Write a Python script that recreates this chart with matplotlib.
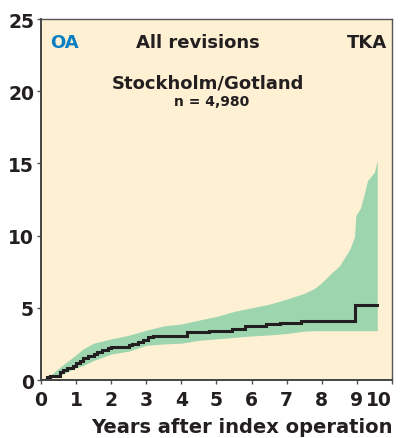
import matplotlib
matplotlib.use("Agg")
import matplotlib.pyplot as plt

# Cumulative revision rate (%) – Kaplan-Meier step line
line_t = [0, 0.18, 0.27, 0.55, 0.62, 0.75, 0.9, 1.0, 1.1, 1.2, 1.35, 1.5, 1.6, 1.75,
          1.9, 2.0, 2.5, 2.6, 2.75, 2.9, 3.05, 3.2, 4.15, 4.8, 5.35, 5.45, 5.6, 5.8,
          6.4, 6.8, 7.4, 8.95, 9.58]
line_v = [0, 0.2, 0.28, 0.55, 0.7, 0.85, 1.0, 1.15, 1.3, 1.5, 1.65, 1.8, 1.95, 2.05,
          2.2, 2.3, 2.4, 2.5, 2.65, 2.8, 2.95, 3.07, 3.3, 3.42, 3.38, 3.55, 3.5, 3.76,
          3.88, 3.98, 4.1, 5.17, 5.17]

# 95% confidence band
band_t = [0, 0.3, 0.6, 1.0, 1.2, 1.5, 2.0, 2.5, 3.0, 3.5, 4.0, 4.5, 5.0, 5.5, 6.0,
          6.5, 7.0, 7.5, 7.8, 8.0, 8.25, 8.5, 8.8, 8.93, 8.97, 9.1, 9.2, 9.3, 9.4,
          9.5, 9.58]
band_hi = [0, 0.4, 1.0, 1.75, 2.15, 2.55, 2.85, 3.1, 3.45, 3.75, 3.88, 4.15, 4.4, 4.75,
           5.0, 5.25, 5.6, 6.0, 6.35, 6.75, 7.35, 7.9, 9.07, 9.9, 11.4, 11.9, 12.8,
           13.8, 14.1, 14.4, 15.2]
band_lo = [0, 0.15, 0.4, 0.85, 1.0, 1.35, 1.8, 2.0, 2.4, 2.5, 2.55, 2.75, 2.85, 2.95,
           3.05, 3.12, 3.22, 3.38, 3.42, 3.42, 3.42, 3.42, 3.42, 3.42, 3.42, 3.42,
           3.42, 3.42, 3.42, 3.42, 3.42]

x_ticks = list(range(0, 11))
y_ticks = [0, 5, 10, 15, 20, 25]

bg = "#FEF0D3"
green = "#9DD5AE"
dark = "#231F20"

plt.rcParams['font.family'] = ['DejaVu Sans']
fig = plt.figure(figsize=(4.03, 4.39), dpi=100)
ax = fig.add_axes([0.1017, 0.1321, 0.871, 0.8223])
ax.set_facecolor(bg)

ax.fill_between(band_t, band_lo, band_hi, color=green, linewidth=0)
ax.step(line_t, line_v, where="post", color=dark, linewidth=2.2, solid_joinstyle="miter")

ax.set_xlim(0, 10)
ax.set_ylim(0, 25)
ax.set_xticks(x_ticks)
ax.set_yticks(y_ticks)
ax.tick_params(axis="both", direction="out", length=3, width=1, color="#555555",
               labelsize=13.5, pad=2, labelcolor=dark)
for lab in ax.get_xticklabels() + ax.get_yticklabels():
    lab.set_fontweight("heavy")
ax.tick_params(axis="x", pad=4)
ax.get_xticklabels()[-1].set_horizontalalignment("right")

for s in ["left", "bottom"]:
    ax.spines[s].set_color("#444444")
    ax.spines[s].set_linewidth(1.4)
for s in ["top", "right"]:
    ax.spines[s].set_color("#555555")
    ax.spines[s].set_linewidth(1.0)

ax.text(0.025, 0.935, "OA", transform=ax.transAxes, color="#0A7FC4",
        fontsize=13, fontweight="heavy", ha="left", va="center")
ax.text(0.447, 0.935, "All revisions", transform=ax.transAxes, color=dark,
        fontsize=13, fontweight="heavy", ha="center", va="center")
ax.text(0.985, 0.935, "TKA", transform=ax.transAxes, color=dark,
        fontsize=13, fontweight="heavy", ha="right", va="center")
ax.text(0.476, 0.825, "Stockholm/Gotland", transform=ax.transAxes, color=dark,
        fontsize=13, fontweight="heavy", ha="center", va="center")
ax.text(0.485, 0.773, "n = 4,980", transform=ax.transAxes, color=dark,
        fontsize=10, fontweight="heavy", ha="center", va="center")

fig.text(393 / 403, 1 - 428 / 439, "Years after index operation", color=dark,
         fontsize=14, fontweight="heavy", ha="right", va="center")

fig.savefig("out.png", dpi=100, facecolor="white")
